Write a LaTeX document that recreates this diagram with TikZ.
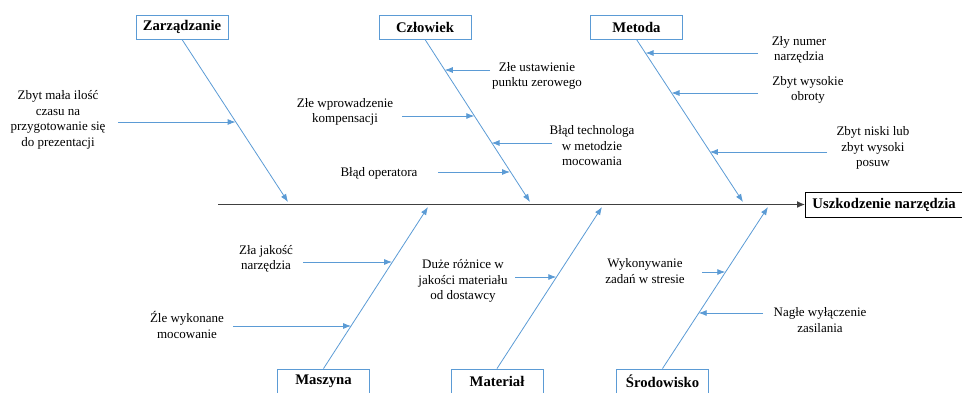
\documentclass[tikz,border=0pt]{standalone}
\usepackage{fontspec}
\setmainfont{Liberation Serif}
\newfontfamily\timesfont{Liberation Serif}
\usetikzlibrary{arrows.meta}
\definecolor{bone}{HTML}{5B9BD5}
\definecolor{spinec}{HTML}{404040}
\begin{document}
\begin{tikzpicture}[x=1pt,y=-1pt,
  catbox/.style={draw=bone, line width=0.9pt, fill=white, minimum width=92pt, minimum height=24pt, inner sep=0pt, font=\timesfont\fontsize{14.7}{16}\selectfont\bfseries},
  effbox/.style={draw=black, line width=0.9pt, fill=white, anchor=west, minimum height=25pt, inner xsep=7pt, inner ysep=0pt, font=\timesfont\fontsize{14.7}{16}\selectfont\bfseries},
  cause/.style={align=center, font=\timesfont\fontsize{13}{15.5}\selectfont, inner sep=0pt},
  bonearrow/.style={draw=bone, line width=0.8pt, -{Latex[length=8pt,width=6pt]}},
  spineline/.style={draw=spinec, line width=1.2pt, -{Latex[length=8pt,width=7pt]}},
]
\useasboundingbox (0,0) rectangle (962,392);

% category boxes
\node[catbox] (zarz) at (182,27) {Zarządzanie};
\node[catbox] (czl) at (425,27) {Człowiek};
\node[catbox] (met) at (636.5,27) {Metoda};
\node[catbox] (masz) at (323.5,381) {Maszyna};
\node[catbox] (mat) at (497,381) {Materiał};
\node[catbox] (srod) at (662.5,381) {Środowisko};

% effect
\node[effbox] (eff) at (805,204.5) {Uszkodzenie narzędzia};
\coordinate (tail) at (218,204.5);
\draw[spineline] (tail) -- (eff.west);

% bones
\coordinate (zE) at (288,202);
\coordinate (cE) at (530,202);
\coordinate (mE) at (743,202);
\coordinate (maE) at (428,207);
\coordinate (mtE) at (602,207);
\coordinate (sE) at (768,207);
\draw[bonearrow] (zarz.south) -- (zE);
\draw[bonearrow] (czl.south) -- (cE);
\draw[bonearrow] (met.south) -- (mE);
\draw[bonearrow] (masz.north) -- (maE);
\draw[bonearrow] (mat.north) -- (mtE);
\draw[bonearrow] (srod.north) -- (sE);

% causes: Zarzadzanie
\node[cause] (t1) at (58,120) {Zbyt mała ilość\\czasu na\\przygotowanie się\\do prezentacji};
\coordinate (s1) at (118,122); \coordinate (e1) at (235.6,122);
\draw[bonearrow] (s1) -- (e1);

% Czlowiek
\node[cause] (t2) at (537,76) {Złe ustawienie\\punktu zerowego};
\coordinate (s2) at (490,70); \coordinate (e2) at (444.8,70);
\draw[bonearrow] (s2) -- (e2);
\node[cause] (t3) at (345,112) {Złe wprowadzenie\\kompensacji};
\coordinate (s3) at (402,116); \coordinate (e3) at (474.3,116);
\draw[bonearrow] (s3) -- (e3);
\node[cause] (t4) at (592,146) {Błąd technologa\\w metodzie\\mocowania};
\coordinate (s4) at (552,143); \coordinate (e4) at (491.6,143);
\draw[bonearrow] (s4) -- (e4);
\node[cause] (t5) at (379,173) {Błąd operatora};
\coordinate (s5) at (438,172); \coordinate (e5) at (510,172);
\draw[bonearrow] (s5) -- (e5);

% Metoda
\node[cause] (t6) at (799,50) {Zły numer\\narzędzia};
\coordinate (s6) at (758,53); \coordinate (e6) at (645.6,53);
\draw[bonearrow] (s6) -- (e6);
\node[cause] (t7) at (808,90) {Zbyt wysokie\\obroty};
\coordinate (s7) at (758,93); \coordinate (e7) at (671.5,93);
\draw[bonearrow] (s7) -- (e7);
\node[cause] (t8) at (873,148) {Zbyt niski lub\\zbyt wysoki\\posuw};
\coordinate (s8) at (827,152); \coordinate (e8) at (709.8,152);
\draw[bonearrow] (s8) -- (e8);

% Maszyna
\node[cause] (t9) at (266,259) {Zła jakość\\narzędzia};
\coordinate (s9) at (303,262); \coordinate (e9) at (392.1,262);
\draw[bonearrow] (s9) -- (e9);
\node[cause] (t10) at (187,325) {Źle wykonane\\mocowanie};
\coordinate (s10) at (233,326); \coordinate (e10) at (351.1,326);
\draw[bonearrow] (s10) -- (e10);

% Material
\node[cause] (t11) at (463,281) {Duże różnice w\\jakości materiału\\od dostawcy};
\coordinate (s11) at (515,277); \coordinate (e11) at (556.3,277);
\draw[bonearrow] (s11) -- (e11);

% Srodowisko
\node[cause] (t12) at (645,271) {Wykonywanie\\zadań w stresie};
\coordinate (s12) at (702,272); \coordinate (e12) at (725.3,272);
\draw[bonearrow] (s12) -- (e12);
\node[cause] (t13) at (820,320) {Nagłe wyłączenie\\zasilania};
\coordinate (s13) at (763,313); \coordinate (e13) at (698.7,313);
\draw[bonearrow] (s13) -- (e13);
\end{tikzpicture}
\end{document}
